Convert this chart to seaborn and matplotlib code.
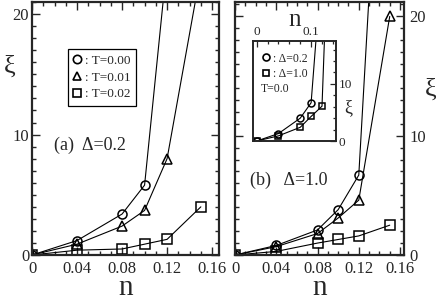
import numpy as np
import matplotlib
matplotlib.use("Agg")
import matplotlib.pyplot as plt
from matplotlib.lines import Line2D
from matplotlib.ticker import MultipleLocator
import seaborn as sns

# panel (a) Delta=0.2
a_n_t0 = [0.0, 0.04, 0.08, 0.10, 0.12]
a_xi_t0 = [0.0, 1.2, 3.4, 5.8, 24.3]
a_n_t1 = [0.0, 0.04, 0.08, 0.10, 0.12, 0.15]
a_xi_t1 = [0.0, 0.9, 2.4, 3.7, 8.0, 23.6]
a_n_t2 = [0.0, 0.04, 0.08, 0.10, 0.12, 0.15]
a_xi_t2 = [0.0, 0.4, 0.5, 0.9, 1.3, 4.0]

# panel (b) Delta=1.0
b_n_t0 = [0.0, 0.04, 0.08, 0.10, 0.12, 0.13]
b_xi_t0 = [0.0, 0.8, 2.1, 3.8, 6.7, 21.8]
b_n_t1 = [0.0, 0.04, 0.08, 0.10, 0.12, 0.15]
b_xi_t1 = [0.0, 0.7, 1.8, 3.1, 4.6, 20.0]
b_n_t2 = [0.0, 0.04, 0.08, 0.10, 0.12, 0.15]
b_xi_t2 = [0.0, 0.3, 1.0, 1.3, 1.6, 2.5]

# inset T=0.0
i_n_d02 = [0.0, 0.04, 0.08, 0.10, 0.11]
i_xi_d02 = [0.0, 1.3, 4.0, 6.7, 19.0]
i_n_d10 = [0.0, 0.04, 0.08, 0.10, 0.12, 0.125]
i_xi_d10 = [0.0, 0.9, 2.4, 4.3, 6.1, 19.0]

leg_a = [": T=0.00", ": T=0.01", ": T=0.02"]
leg_i = [": \u0394=0.2", ": \u0394=1.0"]

sns.set_style("ticks")
plt.rcParams['font.family'] = ['Liberation Serif', 'DejaVu Serif']
plt.rcParams['xtick.direction'] = 'in'
plt.rcParams['ytick.direction'] = 'in'

fig = plt.figure(figsize=(4.36, 3.0), dpi=100)
ax_a = fig.add_axes([0.0734, 0.15, 0.4286, 0.843])
ax_b = fig.add_axes([0.539, 0.15, 0.388, 0.843])
ax_i = fig.add_axes([0.580, 0.53, 0.191, 0.333])

marks = ['o', '^', 's']


def serie(ax, x, y, m, ms=6.5):
    sns.lineplot(x=x, y=y, ax=ax, color='black', lw=0.8, marker=m, ms=ms,
                 mfc='none', mec='black', mew=1.1, sort=False, estimator=None)


for ax, data in [(ax_a, [(a_n_t0, a_xi_t0), (a_n_t1, a_xi_t1), (a_n_t2, a_xi_t2)]),
                 (ax_b, [(b_n_t0, b_xi_t0), (b_n_t1, b_xi_t1), (b_n_t2, b_xi_t2)])]:
    for (x, y), m in zip(data, marks):
        serie(ax, x, y, m)
    ax.xaxis.set_major_locator(MultipleLocator(0.04))
    ax.xaxis.set_minor_locator(MultipleLocator(0.01))
    ax.yaxis.set_major_locator(MultipleLocator(10))
    ax.yaxis.set_minor_locator(MultipleLocator(1))
    ax.set_xticks([0, 0.04, 0.08, 0.12, 0.16])
    ax.set_xticklabels(["0", "0.04", "0.08", "0.12", "0.16"])
    ax.tick_params(which='both', top=True, right=True, labelsize=12, width=1)
    ax.tick_params(axis='x', pad=4)
    ax.tick_params(axis='y', pad=2)
    ax.tick_params(which='major', length=6)
    ax.tick_params(which='minor', length=3)
    for s in ax.spines.values():
        s.set_linewidth(1.6)
    ax.set_xlabel("n", fontsize=21)
    ax.xaxis.set_label_coords(0.5, -0.078)

ax_a.set_xlim(0, 0.166)
ax_a.set_ylim(0, 21)
ax_a.set_ylabel("\u03be", fontsize=19, rotation=0, labelpad=6)
ax_a.yaxis.set_label_coords(-0.12, 0.70)
ax_a.text(0.12, 0.435, "(a)  \u0394=0.2", transform=ax_a.transAxes, fontsize=13,
          va='center')
h_a = [Line2D([], [], ls='none', marker=m, ms=6, mfc='none', mec='black', mew=1.2)
       for m in marks]
lg = ax_a.legend(h_a, leg_a, loc='upper left', bbox_to_anchor=(0.155, 0.84),
                 fontsize=9.5, handlelength=0.6, handletextpad=0.3, borderpad=0.4,
                 labelspacing=0.35, fancybox=False, framealpha=1)
lg.get_frame().set_edgecolor('black')
lg.get_frame().set_linewidth(0.9)

ax_b.set_xlim(0, 0.164)
ax_b.set_ylim(0, 21.2)
ax_b.yaxis.tick_right()
ax_b.tick_params(which='both', left=True, labelleft=False, labelright=True)
ax_b.tick_params(axis='y', pad=4)
ax_b.yaxis.set_label_position('right')
ax_b.set_ylabel("\u03be", fontsize=19, rotation=0, labelpad=10)
ax_b.yaxis.set_label_coords(1.16, 0.70)
ax_b.text(0.09, 0.296, "(b)   \u0394=1.0", transform=ax_b.transAxes, fontsize=13,
          va='center')

# inset
serie(ax_i, i_n_d02, i_xi_d02, 'o', ms=5)
serie(ax_i, i_n_d10, i_xi_d10, 's', ms=5)
ax_i.set_xlim(-0.007, 0.146)
ax_i.set_ylim(0, 17.5)
ax_i.xaxis.tick_top()
ax_i.yaxis.tick_right()
ax_i.xaxis.set_label_position('top')
ax_i.yaxis.set_label_position('right')
ax_i.set_xticks([0, 0.1])
ax_i.set_xticklabels(["0", "0.1"])
ax_i.xaxis.set_minor_locator(MultipleLocator(0.02))
ax_i.set_yticks([0, 10])
ax_i.yaxis.set_minor_locator(MultipleLocator(2))
ax_i.tick_params(which='both', labelsize=9.5, width=0.9, pad=2)
ax_i.tick_params(which='major', length=4)
ax_i.tick_params(which='minor', length=2.5)
for s in ax_i.spines.values():
    s.set_linewidth(1.4)
ax_i.set_xlabel("n", fontsize=18, labelpad=0)
ax_i.set_ylabel("\u03be", fontsize=13, rotation=0, labelpad=4)
ax_i.yaxis.set_label_coords(1.14, 0.42)
h_i = [Line2D([], [], ls='none', marker=m, ms=5, mfc='none', mec='black', mew=1.2)
       for m in ['o', 's']]
ax_i.legend(h_i, leg_i, loc='upper left', bbox_to_anchor=(0.0, 0.98), fontsize=8.5,
            handlelength=0.6, handletextpad=0.3, borderpad=0.3, labelspacing=0.3,
            frameon=False)
ax_i.text(0.10, 0.52, "T=0.0", transform=ax_i.transAxes, fontsize=8.5, va='center')

fig.savefig("out.png", dpi=100)
